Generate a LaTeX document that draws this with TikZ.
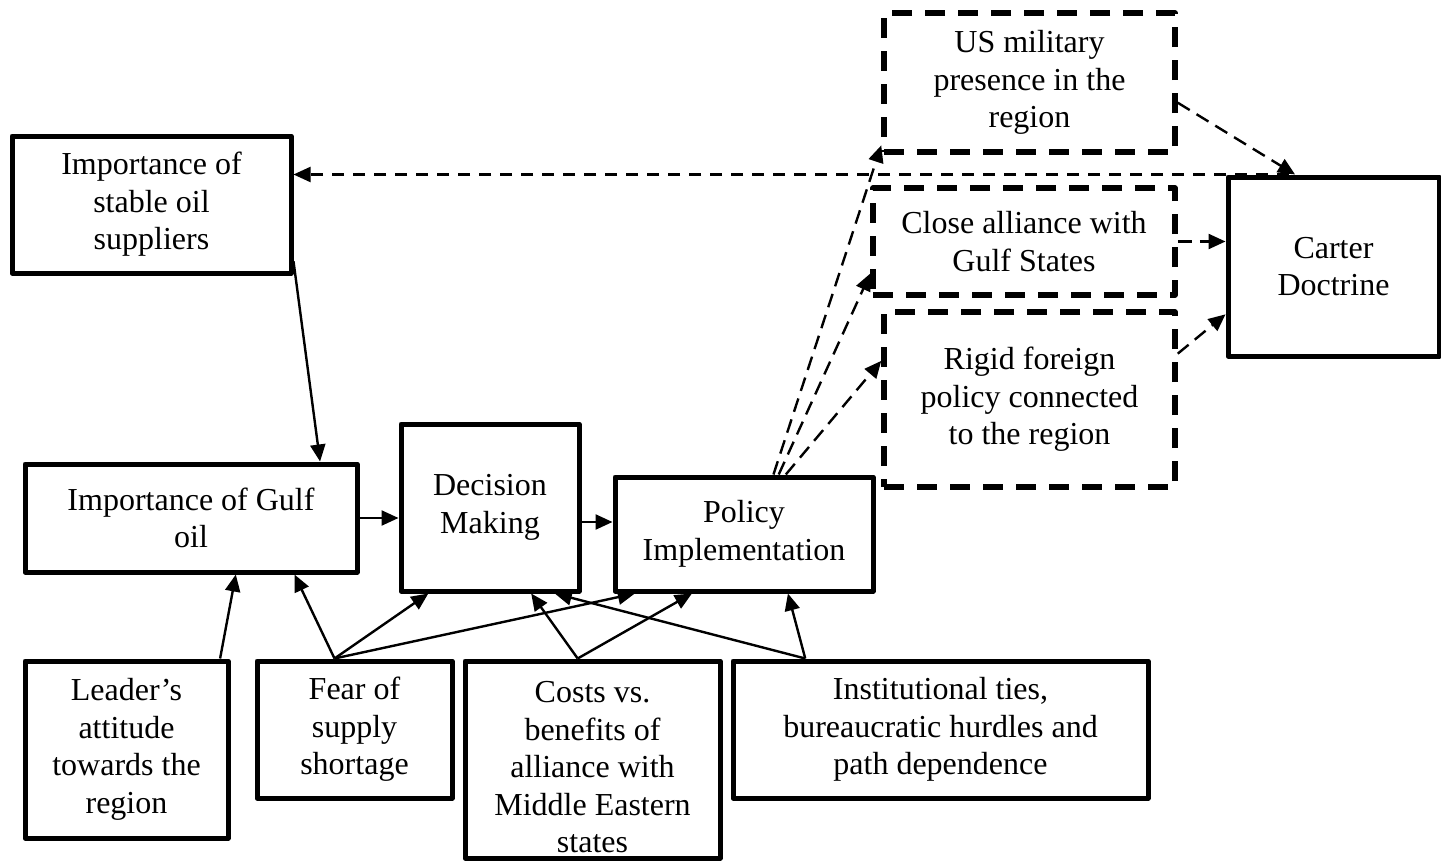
\documentclass[tikz,border=0pt]{standalone}
\usepackage{fontspec}
\setmainfont{Liberation Serif}
\usetikzlibrary{arrows.meta,calc}

\tikzset{
  box/.style={draw, line width=5pt, line join=round, align=center, inner sep=0pt,
    font=\fontsize{32}{37.5}\selectfont},
  dbox/.style={box, line width=5.5pt, dash pattern=on 20pt off 13pt},
  arr/.style={line width=2.4pt, -{Triangle[length=17pt,width=15pt]}},
  darr/.style={arr, dash pattern=on 14pt off 8pt},
  thindash/.style={arr, line width=2.2pt, dash pattern=on 12pt off 9pt}
}

\begin{document}
\begin{tikzpicture}[x=1pt, y=-1pt]
\useasboundingbox (0,0) rectangle (1441,862);

% factor boxes
\node[box, minimum width=279pt, minimum height=137pt] (stable) at (151.5,204.5)
  {Importance of\\stable oil\\suppliers};
\node[box, minimum width=332pt, minimum height=108pt] (gulf) at (191,518)
  {Importance of Gulf\\oil};
\node[box, minimum width=178pt, minimum height=167pt] (dec) at (490,507.5)
  {Decision\\Making};
\node[box, minimum width=258pt, minimum height=114pt] (pol) at (744,534)
  {Policy\\Implementation};
\node[box, minimum width=203pt, minimum height=177pt] (leader) at (126.5,749.5)
  {Leader’s\\attitude\\towards the\\region};
\node[box, minimum width=195pt, minimum height=137pt] (fear) at (354.5,729.5)
  {Fear of\\supply\\shortage};
\node[box, minimum width=255pt, minimum height=197pt] (costs) at (592.5,759.5)
  {\rule{0pt}{37pt}Costs vs.\\benefits of\\alliance with\\Middle Eastern\\states};
\node[box, minimum width=415pt, minimum height=137pt] (inst) at (940.5,729.5)
  {Institutional ties,\\bureaucratic hurdles and\\path dependence};

% outcome boxes
\node[dbox, minimum width=291pt, minimum height=139pt] (us) at (1029.5,82.5)
  {US military\\presence in the\\region};
\node[dbox, minimum width=302pt, minimum height=107pt] (close) at (1024,241.5)
  {Close alliance with\\Gulf States};
\node[dbox, minimum width=291pt, minimum height=175pt] (rigid) at (1029.5,399.5)
  {Rigid foreign\\policy connected\\to the region};
\node[box, minimum width=211pt, minimum height=179pt] (carter) at (1333.5,266.5)
  {Carter\\Doctrine};

% shared start points
\coordinate (fearT) at ($(fear.north west)!0.40!(fear.north east)$);
\coordinate (costsT) at ($(costs.north west)!0.443!(costs.north east)$);
\coordinate (instT) at ($(inst.north west)!0.178!(inst.north east)$);
\coordinate (decR) at ([yshift=-14.5pt]dec.east);
\coordinate (carterT) at ($(carter.north west)!0.294!(carter.north east)$);

% main chain
\draw[arr] ($(stable.south east)!0.1!(stable.north east)$) -- ($(gulf.north west)!0.883!(gulf.north east)$);
\draw[arr] (gulf.east) -- (gulf.east -| dec.west);
\draw[arr] (decR) -- (decR -| pol.west);

% influences from below
\draw[arr] ($(leader.north west)!0.95!(leader.north east)$) -- ($(gulf.south west)!0.633!(gulf.south east)$);
\draw[arr] (fearT) -- ($(gulf.south west)!0.807!(gulf.south east)$);
\draw[arr] (fearT) -- ($(dec.south west)!0.163!(dec.south east)$);
\draw[arr] (fearT) -- ($(pol.south west)!0.085!(pol.south east)$);
\draw[arr] (costsT) -- ($(dec.south west)!0.725!(dec.south east)$);
\draw[arr] (costsT) -- ($(pol.south west)!0.302!(pol.south east)$);
\draw[arr] (instT) -- ($(dec.south west)!0.854!(dec.south east)$);
\draw[arr] (instT) -- ($(pol.south west)!0.667!(pol.south east)$);

% implementation outcomes
\draw[darr] ($(pol.north west)!0.612!(pol.north east)$) -- ($(us.south west)!0.065!(us.north west)$);
\draw[darr] ($(pol.north west)!0.632!(pol.north east)$) -- ($(close.south west)!0.215!(close.north west)$);
\draw[darr] ($(pol.north west)!0.659!(pol.north east)$) -- ($(rigid.north west)!0.286!(rigid.south west)$);

% outcomes into the doctrine
\draw[darr] ($(us.north east)!0.64!(us.south east)$) -- ($(carter.north west)!0.322!(carter.north east)$);
\draw[darr] (close.east) -- (close.east -| carter.west);
\draw[darr] ($(rigid.north east)!0.246!(rigid.south east)$) -- ($(carter.north west)!0.76!(carter.south west)$);

% feedback to oil supply concerns
\draw[thindash] (carterT) -- (carterT -| stable.east);
\end{tikzpicture}
\end{document}
